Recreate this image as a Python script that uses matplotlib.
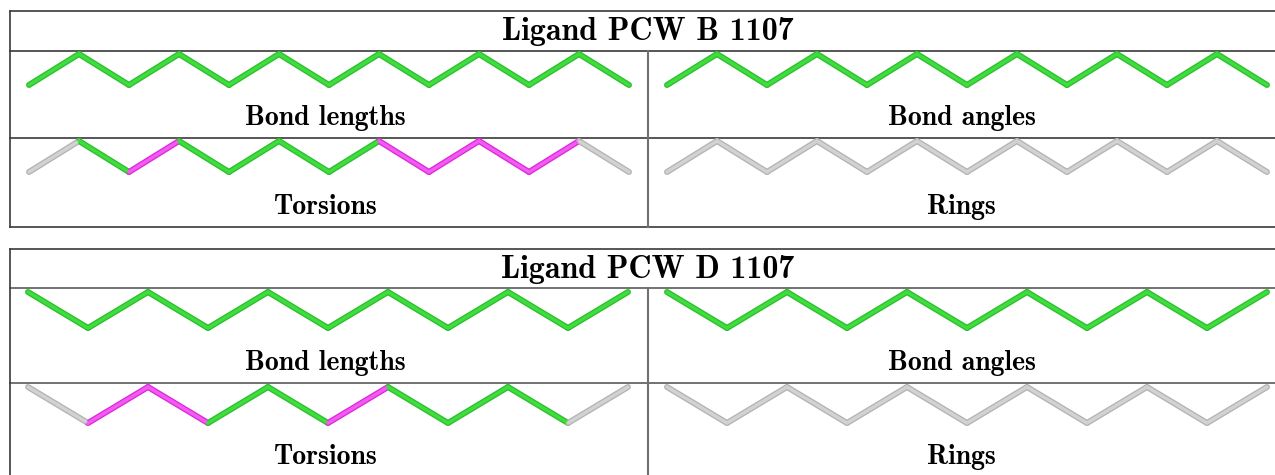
import matplotlib.pyplot as plt

# tables: title, then bond colour codes for each panel
# g = green (ok), m = magenta (flagged), x = gray (not assessed)
titles = ["Ligand PCW B 1107", "Ligand PCW D 1107"]
panel_labels = ["Bond lengths", "Bond angles", "Torsions", "Rings"]

lengths_B = ['g'] * 12
angles_B = ['g'] * 12
torsions_B = ['x', 'g', 'm', 'g', 'g', 'g', 'g', 'm', 'm', 'm', 'm', 'x']
rings_B = ['x'] * 12

lengths_D = ['g'] * 10
angles_D = ['g'] * 10
torsions_D = ['x', 'm', 'm', 'g', 'g', 'm', 'g', 'g', 'g', 'x']
rings_D = ['x'] * 10

# first atom starts low (B) or high (D)
start_high = [False, True]

edge_col = {'g': '#2cc02c', 'm': '#dc2adc', 'x': '#b4b4b4'}
core_col = {'g': '#40dc40', 'm': '#f25af2', 'x': '#d2d2d2'}
line_col = '#3a3a3a'

fig = plt.figure(figsize=(12.75, 4.75), dpi=100)
ax = fig.add_axes([0, 0, 1, 1])
ax.set_xlim(0, 1275)
ax.set_ylim(475, 0)
ax.axis('off')


def zigzag(bonds, x0, x1, y_hi, y_lo, high):
    n = len(bonds)
    step = (x1 - x0) / n
    ys = []
    for i in range(n + 1):
        up = (i % 2 == 0) == high
        ys.append(y_hi if up else y_lo)
    for i, c in enumerate(bonds):
        xs = [x0 + i * step, x0 + (i + 1) * step]
        yy = [ys[i], ys[i + 1]]
        ax.plot(xs, yy, color=edge_col[c], lw=4.3, solid_capstyle='round', zorder=3)
        ax.plot(xs, yy, color=core_col[c], lw=2.4, solid_capstyle='round', zorder=4)


def table(top, mid1, mid2, bottom, title, panels, high, x0, x1, zig, sep_col):
    left, right, div = 10, 1290, 648
    lw = 1.2
    ax.plot([left, right], [top, top], color=line_col, lw=lw)
    ax.plot([left, right], [mid1, mid1], color=sep_col, lw=lw)
    ax.plot([left, right], [mid2, mid2], color=sep_col, lw=lw)
    ax.plot([left, right], [bottom, bottom], color=line_col, lw=lw)
    ax.plot([left, left], [top, bottom], color=line_col, lw=lw)
    ax.plot([div, div], [mid1, bottom], color='#707070', lw=1.5)
    ax.text(div, (top + mid1) / 2 + 1, title, fontname='cmb10', fontsize=23,
            ha='center', va='center')
    rows = [(mid1, mid2), (mid2, bottom)]
    for r, (ra, rb) in enumerate(rows):
        for c in range(2):
            bonds = panels[r * 2 + c]
            lab = panel_labels[r * 2 + c]
            cx = (left + div) / 2 - 4 if c == 0 else (div + 1275) / 2
            xa = x0 if c == 0 else x1
            y_hi = ra + zig[0]
            y_lo = ra + zig[1]
            zigzag(bonds, xa, xa + 600, y_hi, y_lo, high)
            ax.text(cx, rb - 20, lab, fontname='cmb10', fontsize=20,
                    ha='center', va='center')


table(11, 51, 138, 227, titles[0],
      [lengths_B, angles_B, torsions_B, rings_B], start_high[0], 29, 667, (3, 34),
      line_col)
table(249, 288, 383, 477, titles[1],
      [lengths_D, angles_D, torsions_D, rings_D], start_high[1], 28, 667, (4, 40),
      '#5a5a5a')

fig.savefig('out.png', dpi=100)
